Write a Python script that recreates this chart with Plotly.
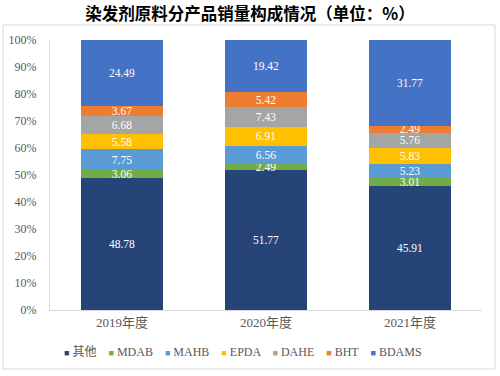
import plotly.graph_objects as go

title = "染发剂原料分产品销量构成情况（单位：%）"
categories = ["2019年度", "2020年度", "2021年度"]
series_names = ["其他", "MDAB", "MAHB", "EPDA", "DAHE", "BHT", "BDAMS"]
series_colors = ["#264478", "#70AD47", "#5B9BD5", "#FFC000", "#A5A5A5", "#ED7D31", "#4472C4"]
values_qita = [48.78, 51.77, 45.91]
values_mdab = [3.06, 2.49, 3.01]
values_mahb = [7.75, 6.56, 5.23]
values_epda = [5.58, 6.91, 5.83]
values_dahe = [6.68, 7.43, 5.76]
values_bht = [3.67, 5.42, 2.49]
values_bdams = [24.49, 19.42, 31.77]
y_ticks = [0, 10, 20, 30, 40, 50, 60, 70, 80, 90, 100]
y_tick_labels = [f"{t}%" for t in y_ticks]

all_values = [values_qita, values_mdab, values_mahb, values_epda, values_dahe, values_bht, values_bdams]

serif = "Liberation Serif, Noto Sans CJK SC, serif"

fig = go.Figure()
for name, color, vals in zip(series_names, series_colors, all_values):
    fig.add_trace(go.Bar(
        x=categories, y=vals, name=name,
        marker=dict(color=color, line=dict(width=0)),
        text=[f"{v:.2f}" for v in vals],
        textposition="inside", insidetextanchor="middle", textangle=0,
        textfont=dict(color="white", size=11.5, family=serif),
        showlegend=False,
    ))

# legend built as text
legend_text = "    ".join(
    f"<span style='color:{c};font-size:9px'>■</span> {n}" for n, c in zip(series_names, series_colors)
)

fig.update_layout(
    barmode="stack",
    bargap=0.43,
    width=500, height=376,
    margin=dict(l=50, r=18, t=40, b=66, autoexpand=False),
    paper_bgcolor="white", plot_bgcolor="white",
    title=dict(text=f"<b>{title}</b>", x=0.5, xanchor="center", y=0.962, yanchor="middle",
               font=dict(size=16.5, color="#000000", family="Noto Sans CJK SC, serif")),
    uniformtext=dict(minsize=11.5, mode="show"),
    xaxis=dict(showline=True, linecolor="#D9D9D9", linewidth=1, ticks="", showgrid=False,
               automargin=False,
               tickfont=dict(size=13, color="#595959", family=serif)),
    yaxis=dict(range=[0, 100], tickvals=y_ticks, ticktext=y_tick_labels, showgrid=False,
               showline=True, linecolor="#D9D9D9", linewidth=1, ticks="",
               ticklabelstandoff=10, zeroline=False, automargin=False,
               tickfont=dict(size=12, color="#595959", family=serif)),
    annotations=[dict(text=legend_text, xref="paper", yref="paper", x=0.4465, y=-0.155,
                      xanchor="center", yanchor="middle", showarrow=False,
                      font=dict(size=12, color="#595959", family=serif))],
    shapes=[dict(type="rect", xref="paper", yref="paper", x0=-0.1088, x1=1.030, y0=-0.2185, y1=1.0556,
                 line=dict(color="#D9D9D9", width=1), fillcolor="rgba(0,0,0,0)", layer="below")],
)

fig.write_html("out.html", config={"displayModeBar": False},
               post_script="document.body.style.margin='0';document.body.style.overflow='hidden';")
